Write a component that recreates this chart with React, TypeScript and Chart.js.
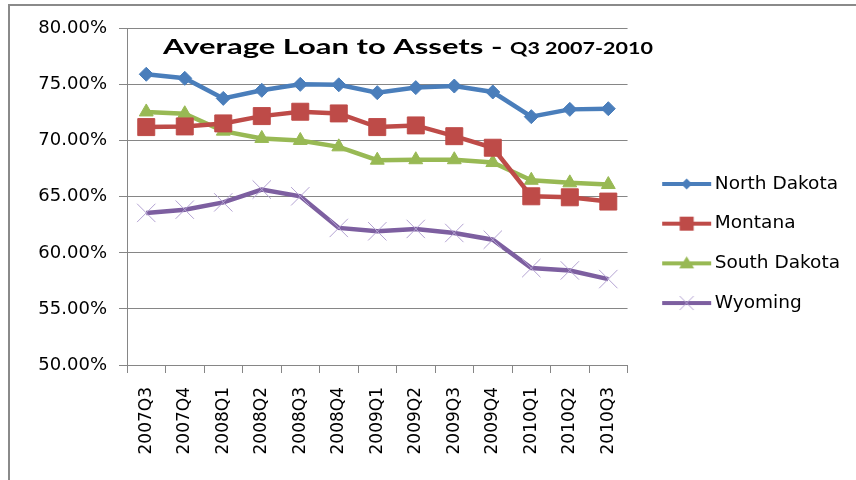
import React, { useEffect, useRef } from "react";
import { Chart, registerables } from "chart.js";

Chart.register(...registerables);

const categories = ["2007Q3", "2007Q4", "2008Q1", "2008Q2", "2008Q3", "2008Q4", "2009Q1", "2009Q2", "2009Q3", "2009Q4", "2010Q1", "2010Q2", "2010Q3"];
const northDakota = [75.92, 75.56, 73.77, 74.49, 75.02, 74.98, 74.28, 74.73, 74.87, 74.34, 72.14, 72.79, 72.85];
const montana = [71.21, 71.27, 71.54, 72.19, 72.58, 72.43, 71.21, 71.36, 70.40, 69.37, 65.04, 64.95, 64.57];
const southDakota = [72.56, 72.40, 70.85, 70.20, 70.02, 69.45, 68.26, 68.30, 68.30, 68.05, 66.47, 66.24, 66.09];
const wyoming = [63.56, 63.85, 64.50, 65.64, 65.04, 62.22, 61.92, 62.13, 61.77, 61.17, 58.64, 58.43, 57.66];
const seriesNames = ["North Dakota", "Montana", "South Dakota", "Wyoming"];
const yTicks = [50, 55, 60, 65, 70, 75, 80];
const titleMain = "Average Loan to Assets - ";
const titleSub = "Q3 2007-2010";

const COLORS = ["#4A7EBB", "#BE4B48", "#98B954", "#7D5FA0"];
const CROSS = "#B3A2D2";

function makeLegendImage(color: string, marker: string) {
  const c = document.createElement("canvas");
  c.width = 70;
  c.height = 20;
  const g = c.getContext("2d")!;
  g.strokeStyle = color;
  g.lineWidth = 4;
  g.beginPath();
  g.moveTo(20, 10);
  g.lineTo(69, 10);
  g.stroke();
  const mx = 44.5, my = 10;
  g.fillStyle = color;
  g.beginPath();
  if (marker === "diamond") {
    g.moveTo(mx, my - 5.5); g.lineTo(mx + 5.5, my); g.lineTo(mx, my + 5.5); g.lineTo(mx - 5.5, my); g.closePath(); g.fill();
  } else if (marker === "square") {
    g.rect(mx - 7, my - 7, 14, 14); g.fill();
  } else if (marker === "triangle") {
    g.moveTo(mx, my - 7); g.lineTo(mx + 7.5, my + 5); g.lineTo(mx - 7.5, my + 5); g.closePath(); g.fill();
  } else {
    g.strokeStyle = CROSS; g.lineWidth = 1;
    g.moveTo(mx - 7, my - 7); g.lineTo(mx + 7, my + 7); g.moveTo(mx + 7, my - 7); g.lineTo(mx - 7, my + 7); g.stroke();
  }
  return c;
}

const titlePlugin = {
  id: "innerTitle",
  afterDraw(chart: any) {
    const { ctx, chartArea } = chart;
    ctx.save();
    ctx.fillStyle = "#000";
    ctx.textBaseline = "alphabetic";
    ctx.textAlign = "left";
    const x = chartArea.left + 36;
    const y = chartArea.top + 25;
    const mainWidth = 347;
    const subWidth = 143;
    ctx.font = "bold 20px Lato";
    const w1 = ctx.measureText(titleMain).width;
    ctx.save();
    ctx.translate(x, y);
    ctx.scale(mainWidth / w1, 1);
    ctx.fillText(titleMain, 0, 0);
    ctx.restore();
    ctx.font = "bold 17px Lato";
    const w2 = ctx.measureText(titleSub).width;
    ctx.save();
    ctx.translate(x + mainWidth, y);
    ctx.scale(subWidth / w2, 1);
    ctx.fillText(titleSub, 0, 0);
    ctx.restore();
    ctx.restore();
  },
};

export default function App() {
  const ref = useRef<HTMLCanvasElement>(null);
  useEffect(() => {
    const markers = ["diamond", "square", "triangle", "cross"];
    const images = COLORS.map((c, i) => makeLegendImage(c, markers[i]));
    const mk = (label: string, data: number[], i: number, style: string, radius: number) => ({
      label,
      data,
      borderColor: COLORS[i],
      backgroundColor: COLORS[i],
      borderWidth: 4.5,
      pointStyle: style,
      pointRadius: radius,
      pointBackgroundColor: i === 3 ? CROSS : COLORS[i],
      pointBorderColor: i === 3 ? CROSS : COLORS[i],
      pointBorderWidth: 1,
      tension: 0,
    });
    const chart = new Chart(ref.current!, {
      type: "line",
      data: {
        labels: categories,
        datasets: [
          mk(seriesNames[0], northDakota, 0, "rectRot", 7),
          mk(seriesNames[1], montana, 1, "rect", 12),
          mk(seriesNames[2], southDakota, 2, "triangle", 8),
          mk(seriesNames[3], wyoming, 3, "crossRot", 13),
        ],
      },
      options: {
        animation: false,
        responsive: false,
        layout: { padding: { left: 10, right: 6, top: 28.5, bottom: 21.5 } },
        plugins: {
          tooltip: { enabled: false },
          title: { display: false },
          legend: {
            position: "right",
            maxWidth: 320,
            labels: {
              usePointStyle: true,
              pointStyleWidth: 56.8,
              padding: 21.2,
              color: "#000",
              font: { family: "DejaVu Sans", size: 18.5 },
              generateLabels: (ch: any) =>
                ch.data.datasets.map((ds: any, i: number) => ({
                  text: ds.label,
                  pointStyle: images[i],
                  fillStyle: COLORS[i],
                  strokeStyle: COLORS[i],
                  lineWidth: 0,
                  hidden: false,
                  datasetIndex: i,
                  fontColor: "#000",
                })),
            },
          },
        },
        scales: {
          x: {
            offset: true,
            afterFit: (s: any) => { s.height = 93.5; },
            grid: { offset: true, drawOnChartArea: false, drawTicks: true, tickLength: 8, color: "#868686" },
            border: { display: true, color: "#868686", width: 1 },
            ticks: { autoSkip: false, maxRotation: 90, minRotation: 90, padding: 14, color: "#000", font: { family: "DejaVu Sans", size: 17 } },
          },
          y: {
            min: yTicks[0],
            max: yTicks[yTicks.length - 1],
            afterFit: (s: any) => { s.width = 117; },
            afterBuildTicks: (s: any) => { s.ticks = yTicks.map((v) => ({ value: v })); },
            grid: { color: "#868686", tickLength: 8, drawTicks: true },
            border: { display: true, color: "#868686", width: 1 },
            ticks: {
              padding: 12,
              color: "#000",
              font: { family: "DejaVu Sans", size: 18 },
              callback: (v: any) => Number(v).toFixed(2) + "%",
            },
          },
        },
      },
      plugins: [titlePlugin],
    });
    return () => chart.destroy();
  }, []);
  return (
    <div style={{ position: "fixed", left: 0, top: 0, width: 856, height: 480, background: "#fff", overflow: "hidden" }}>
      <div style={{ position: "absolute", left: 8, top: 4, width: 900, height: 474, borderTop: "2px solid #8a8a8a", borderLeft: "2px solid #8a8a8a", borderBottom: "1px solid #eeeeee" }} />
      <canvas ref={ref} width={856} height={480} style={{ position: "absolute", left: 0, top: 0 }} />
    </div>
  );
}
